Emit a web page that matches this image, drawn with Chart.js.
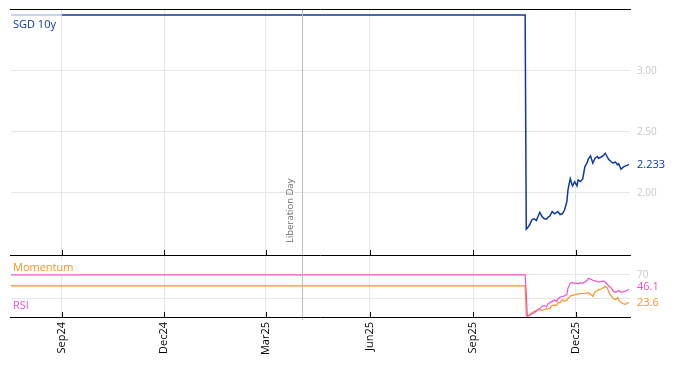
<!DOCTYPE html>
<html>
<head>
<meta charset="utf-8">
<script src="https://cdn.jsdelivr.net/npm/chart.js@4"></script>
<style>
  html, body { margin: 0; padding: 0; background: #fff; }
  #wrap { width: 674px; height: 366px; position: relative; }
</style>
</head>
<body>
<div id="wrap"><canvas id="chartCanvas" width="674" height="366"></canvas></div>
<script>
// x range and ticks
const xStart = '2024-07-18';
const xEnd = '2026-01-18';
const tickDates = ['2024-09-01', '2024-12-01', '2025-03-01', '2025-06-01', '2025-09-01', '2025-12-01'];
const tickLabels = ['Sep24', 'Dec24', 'Mar25', 'Jun25', 'Sep25', 'Dec25'];
const eventDate = '2025-04-02';
const eventLabel = 'Liberation Day';

// flat (stale) part of the series
const flatDates = ['2024-09-01', '2025-10-17'];
const flatValues = [3.46, 3.46];
const preDates = ['2024-07-18', '2024-09-01'];
const preValues = [3.46, 3.46];

// live part, after the drop
const liveDates = [
  '2025-10-18', '2025-10-19', '2025-10-21', '2025-10-23', '2025-10-25', '2025-10-27', '2025-10-28',
  '2025-10-30', '2025-11-01', '2025-11-03', '2025-11-05', '2025-11-06', '2025-11-08', '2025-11-10',
  '2025-11-12', '2025-11-14', '2025-11-15', '2025-11-17', '2025-11-19', '2025-11-21', '2025-11-23',
  '2025-11-24', '2025-11-26', '2025-11-28', '2025-11-30', '2025-12-02', '2025-12-03', '2025-12-05',
  '2025-12-07', '2025-12-09', '2025-12-11', '2025-12-12', '2025-12-14', '2025-12-16', '2025-12-18',
  '2025-12-20', '2025-12-21', '2025-12-23', '2025-12-25', '2025-12-27', '2025-12-29', '2025-12-30',
  '2026-01-01', '2026-01-03', '2026-01-05', '2026-01-07', '2026-01-08', '2026-01-10', '2026-01-12',
  '2026-01-14', '2026-01-16', '2026-01-17'
];
const yieldValues = [
  1.702, 1.711, 1.738, 1.779, 1.787, 1.773, 1.798, 1.839, 1.806, 1.787,
  1.784, 1.798, 1.811, 1.847, 1.828, 1.839, 1.847, 1.822, 1.828, 1.861,
  1.929, 2.025, 2.115, 2.057, 2.090, 2.057, 2.107, 2.093, 2.112, 2.216,
  2.248, 2.276, 2.303, 2.243, 2.284, 2.298, 2.284, 2.292, 2.303, 2.325,
  2.292, 2.276, 2.257, 2.243, 2.254, 2.230, 2.238, 2.194, 2.211, 2.221,
  2.227, 2.233
];

// indicators
const indFlatDates = ['2024-07-18', '2025-10-17'];
const rsiFlat = [70, 70];
const momFlat = [51.7, 51.7];
const rsiValues = [
  40, 1, 3, 5, 7, 10, 12, 14, 18, 19,
  17, 21, 24, 26, 28, 26, 30, 33, 34, 35,
  38, 48, 56, 57, 56, 56, 55, 57, 56, 58,
  61, 64, 63, 61, 60, 59, 58, 59, 60, 58,
  54, 52, 49, 43, 41, 43, 44, 41, 42, 43,
  45, 46.1
];
const momValues = [
  3, 1, 4, 7, 9, 11, 12, 12, 11, 12,
  14, 13, 15, 19, 20, 19, 24, 24, 29, 26,
  28, 31, 35, 36, 37, 38, 38, 39, 39, 39,
  40, 40, 38, 34, 42, 44, 45, 46, 48, 51,
  48, 42, 36, 31, 29, 32, 28, 24, 22, 21,
  24, 23.6
];

const mainTicks = [2.0, 2.5, 3.0];
const indTicks = [30, 70];

const BLUE = '#0d3a9e';
const PINK = '#f050d8';
const ORANGE = '#ff8f1f';
const FONT = '"Open Sans", "Noto Sans", sans-serif';

function dayNum(s) {
  return Date.parse(s + 'T00:00:00Z') / 86400000;
}
function pts(dates, vals) {
  return dates.map((d, i) => ({ x: dayNum(d), y: vals[i] }));
}

const overlayPlugin = {
  id: 'overlay',
  beforeDatasetsDraw: (chart) => {
    const ctx = chart.ctx;
    const area = chart.chartArea;
    const y = chart.scales.y;
    const y2 = chart.scales.y2;
    // panel labels sit on white boxes over the grid
    ctx.save();
    ctx.font = '11px ' + FONT;
    ctx.textBaseline = 'middle';
    ctx.textAlign = 'left';
    [['SGD 10y', BLUE, y.top + 15], ['Momentum', ORANGE, y2.top + 13], ['RSI', PINK, y2.top + 51]].forEach(([t, c, py]) => {
      const w = ctx.measureText(t).width;
      ctx.fillStyle = '#fff';
      ctx.fillRect(area.left, py - 7, w + 6, 14);
      ctx.fillStyle = c;
      ctx.fillText(t, area.left + 2, py);
    });
    ctx.restore();
  },
  afterDatasetsDraw: (chart) => {
    const ctx = chart.ctx;
    const area = chart.chartArea;
    const x = chart.scales.x;
    const y = chart.scales.y;
    const y2 = chart.scales.y2;
    ctx.save();
    // event line
    const ex = Math.round(x.getPixelForValue(dayNum(eventDate))) + 0.5;
    ctx.strokeStyle = '#bdbdbd';
    ctx.lineWidth = 1;
    ctx.beginPath();
    ctx.moveTo(ex, area.top);
    ctx.lineTo(ex, area.bottom + 3);
    ctx.stroke();
    ctx.translate(ex - 12, y.bottom - 12);
    ctx.rotate(-Math.PI / 2);
    ctx.font = '9.5px ' + FONT;
    ctx.fillStyle = '#6e6e6e';
    ctx.textAlign = 'left';
    ctx.textBaseline = 'middle';
    ctx.fillText(eventLabel, 0, 0);
    ctx.restore();

    // panel borders
    ctx.save();
    ctx.strokeStyle = '#000';
    ctx.lineWidth = 1;
    [area.top - 0.5, Math.round(y.bottom) + 0.5, Math.round(area.bottom) + 0.5].forEach((py) => {
      ctx.beginPath();
      ctx.moveTo(area.left - 1, py);
      ctx.lineTo(area.right + 1, py);
      ctx.stroke();
    });
    // tick marks
    tickDates.forEach((d) => {
      const px = Math.round(x.getPixelForValue(dayNum(d))) + 0.5;
      [Math.round(y.bottom), Math.round(area.bottom)].forEach((py) => {
        ctx.beginPath();
        ctx.moveTo(px, py - 5);
        ctx.lineTo(px, py);
        ctx.stroke();
      });
    });
    // last value labels
    ctx.font = '11px ' + FONT;
    ctx.textAlign = 'left';
    ctx.textBaseline = 'middle';
    const lx = area.right + 7;
    ctx.fillStyle = BLUE;
    ctx.fillText(yieldValues[yieldValues.length - 1].toFixed(3), lx, y.getPixelForValue(yieldValues[yieldValues.length - 1]));
    ctx.fillStyle = PINK;
    ctx.fillText(rsiValues[rsiValues.length - 1].toFixed(1), lx, y2.getPixelForValue(rsiValues[rsiValues.length - 1]) - 2);
    ctx.fillStyle = ORANGE;
    ctx.fillText(momValues[momValues.length - 1].toFixed(1), lx, y2.getPixelForValue(momValues[momValues.length - 1]));
    ctx.restore();
  }
};

function fitRight(s) {
  s.width = 44;
  s.paddingTop = 0;
  s.paddingBottom = 0;
}

const ctx = document.getElementById('chartCanvas').getContext('2d');
const chart = new Chart(ctx, {
  type: 'line',
  data: {
    datasets: [
      { data: pts(preDates, preValues), borderColor: '#c9d3ea', borderWidth: 2, yAxisID: 'y' },
      { data: pts(flatDates, flatValues).concat(pts(liveDates, yieldValues)), borderColor: BLUE, borderWidth: 1.5, yAxisID: 'y' },
      { data: pts(indFlatDates, rsiFlat).concat(pts(liveDates, rsiValues)), borderColor: PINK, borderWidth: 1.2, yAxisID: 'y2' },
      { data: pts(indFlatDates, momFlat).concat(pts(liveDates, momValues)), borderColor: ORANGE, borderWidth: 1.2, yAxisID: 'y2' }
    ]
  },
  options: {
    responsive: false,
    animation: false,
    layout: { padding: { left: 11, top: 10, right: 0, bottom: 0 } },
    elements: { point: { radius: 0 }, line: { tension: 0 } },
    plugins: { legend: { display: false }, tooltip: { enabled: false } },
    scales: {
      x: {
        type: 'linear',
        min: dayNum(xStart),
        max: dayNum(xEnd),
        afterBuildTicks: (s) => { s.ticks = tickDates.map((d) => ({ value: dayNum(d) })); },
        afterFit: (s) => { s.height = 49; s.paddingLeft = 0; s.paddingRight = 0; },
        grid: { color: '#e6e6e6', drawTicks: false },
        border: { display: false },
        ticks: {
          minRotation: 90,
          maxRotation: 90,
          padding: 5,
          color: '#000',
          font: { family: FONT, size: 11 },
          callback: (v) => tickLabels[tickDates.findIndex((d) => dayNum(d) === v)]
        }
      },
      y: {
        position: 'right',
        stack: 'panels',
        stackWeight: 245,
        min: 1.49,
        max: 3.5,
        afterBuildTicks: (s) => { s.ticks = mainTicks.map((v) => ({ value: v })); },
        afterFit: fitRight,
        grid: { color: '#e6e6e6', drawTicks: false },
        border: { display: false },
        ticks: {
          padding: 7,
          color: '#c8c8c8',
          font: { family: FONT, size: 10 },
          callback: (v) => v.toFixed(2)
        }
      },
      y2: {
        position: 'right',
        stack: 'panels',
        stackWeight: 62,
        min: 0,
        max: 103,
        afterBuildTicks: (s) => { s.ticks = indTicks.map((v) => ({ value: v })); },
        afterFit: fitRight,
        grid: { color: '#e6e6e6', drawTicks: false },
        border: { display: false },
        ticks: {
          padding: 7,
          color: '#c8c8c8',
          font: { family: FONT, size: 10 },
          callback: (v) => (v === 70 ? '70' : '')
        }
      }
    }
  },
  plugins: [overlayPlugin]
});
</script>
</body>
</html>
